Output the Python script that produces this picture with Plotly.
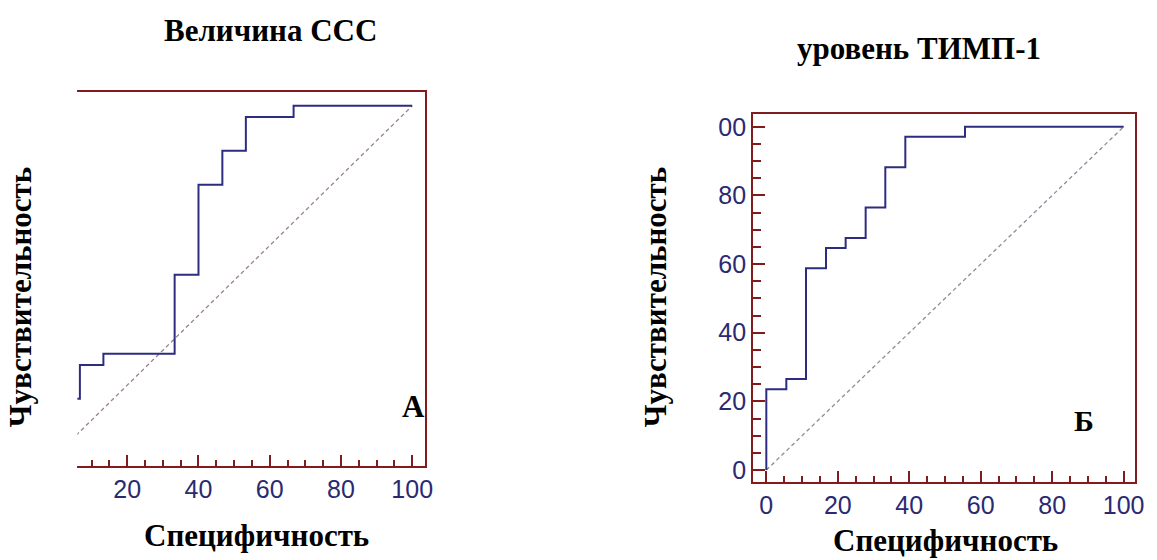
import plotly.graph_objects as go

W, H = 1157, 560

# ROC curve, panel A (Величина ССС): specificity steps and sensitivity levels (%)
spec_a = [0, 6.7, 13.3, 33.3, 40.0, 46.7, 53.3, 66.7, 100]
sens_a = [16.1, 25.8, 29.0, 51.6, 77.4, 87.1, 96.8, 100, 100]

# ROC curve, panel Б (уровень ТИМП-1)
spec_b = [0, 0, 5.6, 11.1, 16.7, 22.2, 27.8, 33.3, 38.9, 55.6, 100]
sens_b = [0, 23.5, 26.5, 58.8, 64.7, 67.6, 76.5, 88.2, 97.1, 100, 100]

# reference diagonal
diag = [0, 100]

x_ticks = [0, 20, 40, 60, 80, 100]
y_ticks = [0, 20, 40, 60, 80, 100]
y_ticktext_b = ["0", "20", "40", "60", "80", "00"]

AXIS = "#821c1c"
CURVE = "#2d2d80"
LABEL = "#2a2a72"
SERIF = "Liberation Serif, Times New Roman, serif"
SANS = "Liberation Sans, Arial, sans-serif"


def px(x):
    return x / W


def py(y):
    return 1 - y / H


fig = go.Figure()

fig.add_trace(go.Scatter(x=diag, y=diag, mode="lines", xaxis="x", yaxis="y",
                         line=dict(color="#9a8486", width=1.3, dash="4px,3px"),
                         hoverinfo="skip", showlegend=False))
fig.add_trace(go.Scatter(x=spec_a, y=sens_a, mode="lines", xaxis="x", yaxis="y",
                         line=dict(color=CURVE, width=2, shape="hv"), showlegend=False))

fig.add_trace(go.Scatter(x=diag, y=diag, mode="lines", xaxis="x2", yaxis="y2",
                         line=dict(color="#8d8d99", width=1.3, dash="4px,3px"),
                         hoverinfo="skip", showlegend=False))
fig.add_trace(go.Scatter(x=spec_b, y=sens_b, mode="lines", xaxis="x2", yaxis="y2",
                         line=dict(color=CURVE, width=2, shape="hv"), showlegend=False))

tickfont = dict(family=SANS, size=25, color=LABEL)

xaxis_common = dict(
    showline=True, linecolor=AXIS, linewidth=2, mirror=True,
    showgrid=False, zeroline=False,
    tickvals=x_ticks, ticks="inside", ticklen=11, tickwidth=2, tickcolor=AXIS,
    minor=dict(dtick=5, tick0=0, ticks="inside", ticklen=6, tickwidth=2, tickcolor=AXIS),
    tickfont=tickfont,
)

fig.update_layout(
    width=W, height=H, autosize=False,
    margin=dict(l=0, r=0, t=0, b=0),
    paper_bgcolor="white", plot_bgcolor="white",
    xaxis=dict(domain=[px(78), px(428)], range=[6.0, 103.5], anchor="y", **xaxis_common),
    yaxis=dict(domain=[py(467), py(90)], range=[-3.3, 104.1], anchor="x", side="right",
               showline=True, linecolor=AXIS, linewidth=2, mirror=False,
               showgrid=False, zeroline=False, ticks="", showticklabels=False),
    xaxis2=dict(domain=[px(759), px(1144)], range=[-3.7, 103.2], anchor="y2", **xaxis_common),
    yaxis2=dict(domain=[py(483), py(113)], range=[-3.6, 103.6], anchor="x2",
                showline=True, linecolor=AXIS, linewidth=2, mirror=True,
                showgrid=False, zeroline=False,
                tickvals=y_ticks, ticktext=y_ticktext_b,
                ticks="inside", ticklen=12, tickwidth=2, tickcolor=AXIS,
                minor=dict(dtick=5, tick0=0, ticks="inside", ticklen=8, tickwidth=2, tickcolor=AXIS),
                tickfont=tickfont),
)


def label(text, x, y, angle=0, size=31):
    fig.add_annotation(text=f"<b>{text}</b>", x=px(x), y=py(y), xref="paper", yref="paper",
                       xanchor="center", yanchor="middle", showarrow=False, textangle=angle,
                       borderpad=0, font=dict(family=SERIF, size=size, color="black"))


label("Величина ССС", 273, 29)
label("уровень ТИМП-1", 926, 47)
label("Специфичность", 259, 536)
label("Специфичность", 953, 541)
label("Чувствительность", 21, 297, angle=-90)
label("Чувствительность", 661, 297, angle=-90)
label("А", 417, 407, size=31)
label("Б", 1092, 421, size=30)

fig.write_html("out.html")
